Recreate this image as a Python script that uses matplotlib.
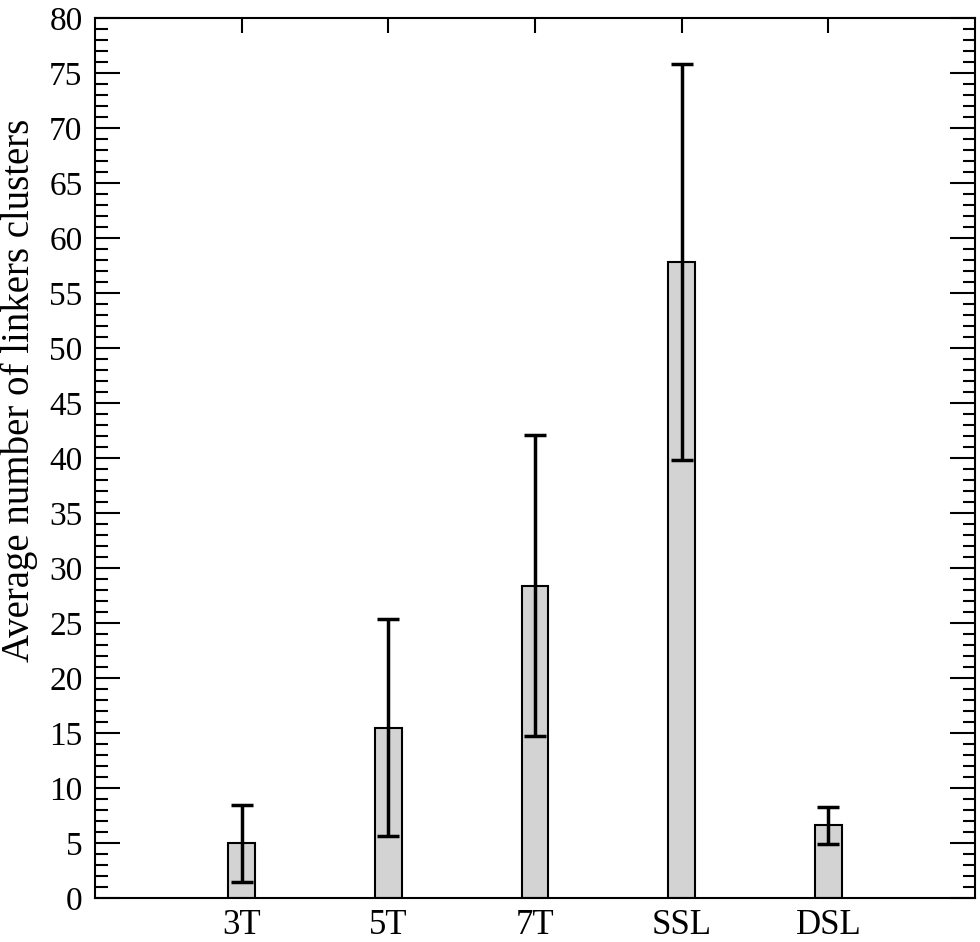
import matplotlib
matplotlib.use("Agg")
import matplotlib.pyplot as plt
from matplotlib.ticker import MultipleLocator

plt.rcParams['font.family'] = ['Liberation Serif', 'DejaVu Serif']

# data
categories = ['3T', '5T', '7T', 'SSL', 'DSL']
means = [5.0, 15.5, 28.4, 57.8, 6.6]
errors = [3.5, 9.9, 13.7, 18.0, 1.65]

fig = plt.figure(figsize=(9.8, 9.42), dpi=100)
ax = fig.add_axes([95 / 980, 1 - 898 / 942, 880 / 980, 880 / 942])

pos = list(range(1, len(categories) + 1))
ax.bar(pos, means, width=0.18, color='#d3d3d3', edgecolor='black', linewidth=1.5, zorder=2)
ax.errorbar(pos, means, yerr=errors, fmt='none', ecolor='black', elinewidth=2.5,
            capsize=8, capthick=2.5, zorder=3)

ax.set_xlim(0, 6)
ax.set_ylim(0, 80)
ax.set_xticks(pos)
ax.set_xticklabels(categories)
ax.yaxis.set_major_locator(MultipleLocator(5))
ax.yaxis.set_minor_locator(MultipleLocator(1))

ax.tick_params(axis='y', which='major', direction='in', length=18, width=1.5,
               left=True, right=True, labelsize=24, pad=9)
ax.tick_params(axis='y', which='minor', direction='in', length=9, width=1.5,
               left=True, right=True)
ax.tick_params(axis='x', which='major', direction='in', length=11, width=1.5,
               top=True, bottom=True, labelsize=25, pad=8)
ax.tick_params(axis='x', which='minor', bottom=False, top=False)

for s in ax.spines.values():
    s.set_linewidth(1.5)

fig.text(19 / 980, 1 - 390 / 942, 'Average number of linkers clusters', fontsize=28,
         rotation=90, ha='center', va='center')

fig.savefig('out.png', dpi=100)
